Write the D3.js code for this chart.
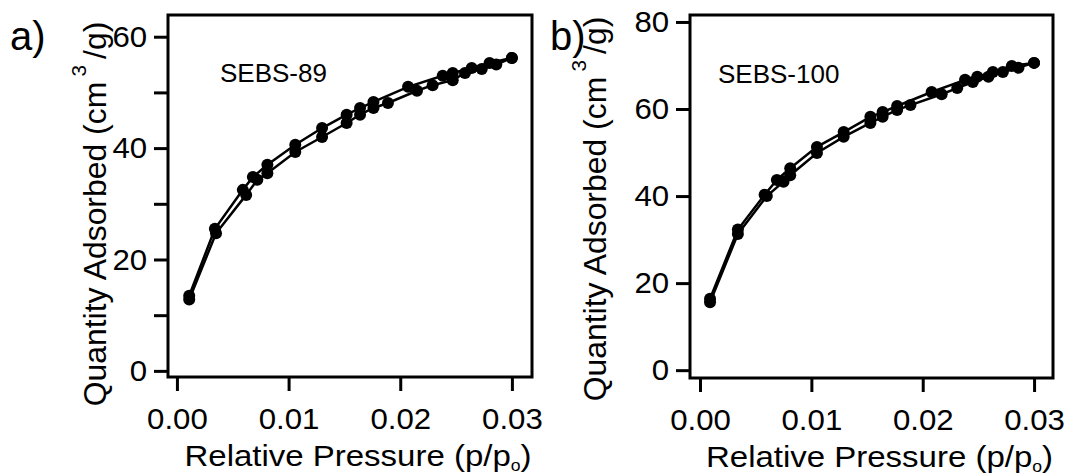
<!DOCTYPE html>
<html>
<head>
<meta charset="utf-8">
<script src="https://cdn.jsdelivr.net/npm/d3@7"></script>
<style>
  body { margin: 0; background: #fff; }
  text { font-family: "Liberation Sans", Arial, sans-serif; fill: #000; }
</style>
</head>
<body>
<svg id="chart" width="1070" height="475"></svg>
<script>
// panel a - SEBS-89
var pA_ads = [0.0011, 0.0035, 0.0062, 0.0072, 0.0081, 0.0106, 0.0130, 0.0152, 0.0164, 0.0176, 0.0189, 0.0215, 0.0229, 0.0247, 0.0258, 0.0273, 0.0286, 0.0300];
var qA_ads = [12.8, 24.7, 31.6, 34.3, 35.5, 39.3, 42.0, 44.5, 46.0, 47.2, 48.1, 50.3, 51.3, 52.2, 53.5, 54.2, 55.0, 56.2];
var pA_des = [0.0300, 0.0280, 0.0264, 0.0247, 0.0238, 0.0207, 0.0176, 0.0164, 0.0152, 0.0130, 0.0106, 0.0081, 0.0068, 0.0059, 0.0034, 0.0011];
var qA_des = [56.2, 55.3, 54.4, 53.5, 53.0, 51.0, 48.3, 47.2, 46.0, 43.6, 40.6, 37.0, 34.8, 32.5, 25.5, 13.5];

// panel b - SEBS-100
var pB_ads = [0.0009, 0.0034, 0.0060, 0.0075, 0.0081, 0.0105, 0.0129, 0.0153, 0.0164, 0.0177, 0.0189, 0.0217, 0.0231, 0.0245, 0.0259, 0.0272, 0.0286, 0.0300];
var qB_ads = [15.6, 31.3, 40.0, 43.3, 44.8, 49.9, 53.6, 56.8, 58.2, 59.8, 60.9, 63.4, 64.8, 66.2, 67.4, 68.5, 69.5, 70.6];
var pB_des = [0.0300, 0.0280, 0.0263, 0.0249, 0.0238, 0.0208, 0.0177, 0.0164, 0.0153, 0.0129, 0.0105, 0.0081, 0.0069, 0.0058, 0.0034, 0.0009];
var qB_des = [70.6, 69.9, 68.5, 67.4, 66.7, 63.9, 60.7, 59.3, 58.2, 54.7, 51.3, 46.4, 43.7, 40.3, 32.3, 16.4];

var xTicks = [0, 0.01, 0.02, 0.03];
var yTicksA = [0, 10, 20, 30, 40, 50, 60];
var yTicksB = [0, 20, 40, 60, 80];

var svg = d3.select("#chart");

function zip(xs, ys) {
  return xs.map(function (x, i) { return [x, ys[i]]; });
}

function drawPanel(cfg) {
  var g = svg.append("g").attr("transform", "translate(" + cfg.left + "," + cfg.top + ")");
  var w = cfg.width, h = cfg.height;

  var x = d3.scaleLinear().domain(cfg.xDomain).range([0, w]);
  var y = d3.scaleLinear().domain(cfg.yDomain).range([h, 0]);

  // axes
  var yAxis = g.append("g")
    .call(d3.axisLeft(y).tickValues(cfg.yTicks).tickSize(14).tickPadding(6)
      .tickFormat(function (d) { return d % 20 === 0 ? d : ""; }));
  var xAxis = g.append("g")
    .attr("transform", "translate(0," + h + ")")
    .call(d3.axisBottom(x).tickValues(xTicks).tickSize(14).tickPadding(17).tickFormat(d3.format(".2f")));

  [yAxis, xAxis].forEach(function (a) {
    a.select(".domain").remove();
    a.selectAll(".tick line").attr("stroke", "#000").attr("stroke-width", 3);
    a.selectAll(".tick text").style("font-size", "30px").attr("fill", "#000")
      .attr("transform", "scale(1.04,1)");
  });

  // frame
  g.append("rect")
    .attr("width", w).attr("height", h)
    .attr("fill", "none").attr("stroke", "#000").attr("stroke-width", 3);

  var line = d3.line().x(function (d) { return x(d[0]); }).y(function (d) { return y(d[1]); });

  cfg.series.forEach(function (s) {
    g.append("path").datum(s)
      .attr("d", line).attr("fill", "none")
      .attr("stroke", "#000").attr("stroke-width", 2.5);
  });
  cfg.series.forEach(function (s) {
    g.selectAll(null).data(s).enter().append("circle")
      .attr("cx", function (d) { return x(d[0]); })
      .attr("cy", function (d) { return y(d[1]); })
      .attr("r", 6).attr("fill", "#000");
  });

  // sample name
  g.append("text")
    .attr("x", cfg.nameX).attr("y", cfg.nameY)
    .style("font-size", "26px")
    .text(cfg.name);

  // x title
  var xt = g.append("text")
    .attr("transform", "translate(" + (w / 2 + 8) + "," + (h + 89) + ") scale(1.1,1)")
    .attr("text-anchor", "middle")
    .style("font-size", "30px");
  xt.append("tspan").text("Relative Pressure (p/p");
  xt.append("tspan").attr("dy", 5).style("font-size", "16px").text("o");
  xt.append("tspan").attr("dy", -5).text(")");

  // y title
  var yt = g.append("text")
    .attr("transform", "translate(" + cfg.yTitleX + "," + cfg.yTitleY + ") rotate(-90) scale(1.03,1)")
    .attr("text-anchor", "middle")
    .style("font-size", "31px");
  yt.append("tspan").text("Quantity Adsorbed (cm");
  yt.append("tspan").attr("dy", -20).attr("dx", 5).style("font-size", "20px").text("3");
  yt.append("tspan").attr("dy", 20).attr("dx", 6).text("/g)");

  // panel letter
  svg.append("text")
    .attr("x", cfg.letterX).attr("y", 50)
    .style("font-size", "40px")
    .text(cfg.letter);
}

drawPanel({
  left: 168, top: 15, width: 364, height: 362,
  xDomain: [-0.0008, 0.0318], yDomain: [-1.1, 63.9],
  yTicks: yTicksA,
  series: [zip(pA_ads, qA_ads), zip(pA_des, qA_des)],
  name: "SEBS-89", nameX: 52, nameY: 67,
  yTitleX: -62, yTitleY: 199,
  letter: "a)", letterX: 10
});

drawPanel({
  left: 690, top: 15, width: 363, height: 363,
  xDomain: [-0.0009, 0.0317], yDomain: [-1.8, 81.6],
  yTicks: yTicksB,
  series: [zip(pB_ads, qB_ads), zip(pB_des, qB_des)],
  name: "SEBS-100", nameX: 28, nameY: 68,
  yTitleX: -84, yTitleY: 194,
  letter: "b)", letterX: 550
});
</script>
</body>
</html>
